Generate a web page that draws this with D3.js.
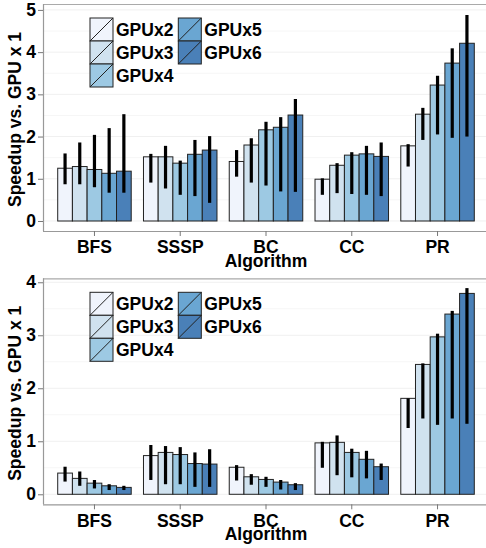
<!DOCTYPE html>
<html>
<head>
<meta charset="utf-8">
<script src="https://cdn.jsdelivr.net/npm/d3@7"></script>
<style>
  body { margin: 0; background: #fff; }
  svg text { font-family: "Liberation Sans", Arial, Helvetica, sans-serif; font-weight: bold; }
</style>
</head>
<body>
<svg id="chart" width="486" height="548"></svg>
<script>
const algorithms = ['BFS', 'SSSP', 'BC', 'CC', 'PR'];
const configs = ['GPUx2', 'GPUx3', 'GPUx4', 'GPUx5', 'GPUx6'];
const colors = ['#f0f4fc', '#d0e2ef', '#9dc9e3', '#6aa6d2', '#4a80b8'];

// top chart: mean speedup, error low/high (per algorithm, per config)
const topMean = [
  [1.25, 1.29, 1.22, 1.13, 1.18],
  [1.52, 1.52, 1.37, 1.58, 1.68],
  [1.41, 1.80, 2.16, 2.22, 2.51],
  [0.99, 1.32, 1.56, 1.59, 1.53],
  [1.78, 2.53, 3.22, 3.74, 4.21]
];
const topLow = [
  [0.87, 0.87, 0.80, 0.67, 0.67],
  [0.91, 0.77, 0.62, 0.59, 0.43],
  [1.05, 0.91, 0.84, 0.70, 0.69],
  [0.62, 0.66, 0.64, 0.62, 0.59],
  [1.29, 1.92, 2.05, 1.97, 2.00]
];
const topHigh = [
  [1.60, 1.86, 2.04, 2.20, 2.53],
  [1.59, 1.78, 1.43, 1.92, 2.01],
  [1.68, 1.96, 2.35, 2.46, 2.89],
  [1.01, 1.37, 1.63, 1.78, 1.86],
  [1.82, 2.68, 3.44, 4.09, 4.88]
];
const topTicks = [0, 1, 2, 3, 4, 5];

// bottom chart
const botMean = [
  [0.40, 0.30, 0.21, 0.16, 0.13],
  [0.73, 0.79, 0.75, 0.58, 0.57],
  [0.51, 0.33, 0.28, 0.23, 0.18],
  [0.97, 0.98, 0.79, 0.66, 0.52],
  [1.81, 2.45, 2.97, 3.40, 3.79]
];
const botLow = [
  [0.24, 0.16, 0.11, 0.08, 0.08],
  [0.27, 0.19, 0.19, 0.14, 0.14],
  [0.26, 0.18, 0.14, 0.09, 0.08],
  [0.50, 0.36, 0.32, 0.30, 0.27],
  [1.25, 1.43, 1.31, 1.43, 1.33]
];
const botHigh = [
  [0.52, 0.43, 0.27, 0.19, 0.16],
  [0.93, 0.91, 0.89, 0.79, 0.85],
  [0.55, 0.38, 0.33, 0.27, 0.21],
  [0.99, 1.11, 0.86, 0.82, 0.58],
  [1.81, 2.47, 3.03, 3.46, 3.89]
];
const botTicks = [0, 1, 2, 3, 4];

const svg = d3.select('#chart');
const fontSize = 17.5;

function drawPanel(top, bottom, yDomain, ticks, mean, low, high) {
  const left = 43, right = 489;
  const g = svg.append('g');

  const x = d3.scaleBand().domain(algorithms).range([left, right])
    .paddingInner(0.143).paddingOuter(0.1715);
  const x1 = d3.scaleBand().domain(configs).range([0, x.bandwidth()]);
  const y = d3.scaleLinear().domain(yDomain).range([bottom, top]);
  const color = d3.scaleOrdinal().domain(configs).range(colors);

  // grid
  const minor = d3.range(0.5, yDomain[1], 1);
  g.selectAll('.minor').data(minor).join('line')
    .attr('x1', left).attr('x2', right)
    .attr('y1', d => y(d)).attr('y2', d => y(d))
    .attr('stroke', '#f6f6f6').attr('stroke-width', 1);
  g.selectAll('.major').data(ticks).join('line')
    .attr('x1', left).attr('x2', right)
    .attr('y1', d => y(d)).attr('y2', d => y(d))
    .attr('stroke', '#f0f0f0').attr('stroke-width', 1);

  // top border
  g.append('line').attr('x1', left).attr('x2', 486)
    .attr('y1', top + 0.5).attr('y2', top + 0.5)
    .attr('stroke', '#aaa').attr('stroke-width', 1.2);

  const rows = [];
  algorithms.forEach((a, i) => configs.forEach((c, j) => {
    rows.push({alg: a, cfg: c, v: mean[i][j], lo: low[i][j], hi: high[i][j]});
  }));

  g.selectAll('rect.bar').data(rows).join('rect')
    .attr('class', 'bar')
    .attr('x', d => x(d.alg) + x1(d.cfg))
    .attr('width', x1.bandwidth())
    .attr('y', d => y(d.v))
    .attr('height', d => y(0) - y(d.v))
    .attr('fill', d => color(d.cfg))
    .attr('stroke', '#222').attr('stroke-width', 1);

  g.selectAll('line.err').data(rows).join('line')
    .attr('class', 'err')
    .attr('x1', d => x(d.alg) + x1(d.cfg) + x1.bandwidth() / 2)
    .attr('x2', d => x(d.alg) + x1(d.cfg) + x1.bandwidth() / 2)
    .attr('y1', d => y(d.lo)).attr('y2', d => y(d.hi))
    .attr('stroke', '#000').attr('stroke-width', 3.2);

  // y axis
  const ya = g.append('g').attr('transform', `translate(${left},0)`)
    .call(d3.axisLeft(y).tickValues(ticks).tickSize(5).tickPadding(2).tickFormat(d3.format('d')));
  ya.select('.domain').attr('stroke', '#999').attr('stroke-width', 1.2)
    .attr('d', `M0.5,${top}V${bottom}`);
  ya.selectAll('.tick line').attr('stroke', '#777');
  ya.selectAll('.tick text').attr('font-size', fontSize).attr('fill', '#000')
    .attr('font-family', null);

  // x axis
  const xa = g.append('g').attr('transform', `translate(0,${bottom})`)
    .call(d3.axisBottom(x).tickSize(5).tickPadding(5));
  xa.select('.domain').attr('stroke', '#999').attr('stroke-width', 1.2)
    .attr('d', `M${left},0.5H486`);
  xa.selectAll('.tick line').attr('stroke', '#777');
  xa.selectAll('.tick text').attr('font-size', fontSize).attr('fill', '#000')
    .attr('font-family', null);

  // titles
  g.append('text').attr('x', (left + right) / 2).attr('y', bottom + 36)
    .attr('text-anchor', 'middle').attr('font-size', fontSize).text('Algorithm');
  g.append('text')
    .attr('transform', `translate(21,${(top + bottom) / 2 + 2}) rotate(-90)`)
    .attr('text-anchor', 'middle').attr('font-size', fontSize)
    .text('Speedup vs. GPU x 1');

  // legend
  const key = 23;
  const lg = g.append('g').attr('transform', `translate(90,${top + 14})`);
  configs.forEach((c, i) => {
    const col = i < 3 ? 0 : 1;
    const row = i < 3 ? i : i - 3;
    const kx = col * 88.3, ky = row * key;
    lg.append('rect').attr('x', kx).attr('y', ky).attr('width', key).attr('height', key)
      .attr('fill', color(c)).attr('stroke', '#222').attr('stroke-width', 1);
    lg.append('line').attr('x1', kx).attr('y1', ky + key).attr('x2', kx + key).attr('y2', ky)
      .attr('stroke', '#222').attr('stroke-width', 1);
    lg.append('text').attr('x', kx + key + 3).attr('y', ky + key / 2 + 6.5)
      .attr('font-size', fontSize).text(c);
  });
}

drawPanel(4, 231, [-0.237, 5.14], topTicks, topMean, topLow, topHigh);
drawPanel(278.3, 504.3, [-0.189, 4.075], botTicks, botMean, botLow, botHigh);
</script>
</body>
</html>
